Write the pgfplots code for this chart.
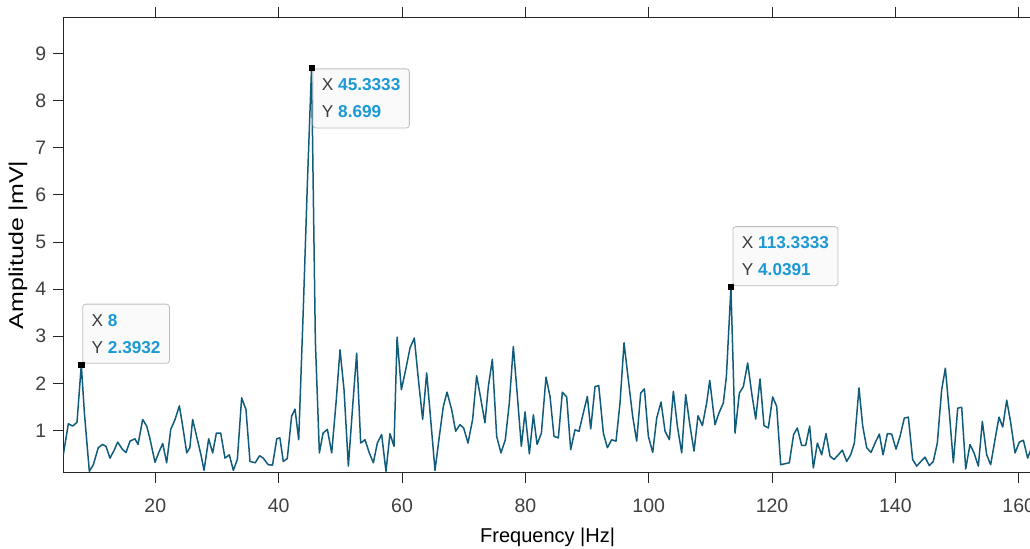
\documentclass[border=0pt]{standalone}
\usepackage{pgfplots}
\pgfplotsset{compat=1.18}
\usepackage{fontspec}
\setmainfont{Liberation Sans}
\definecolor{lineC}{RGB}{17,92,122}
\definecolor{axC}{RGB}{38,38,38}
\definecolor{tickC}{RGB}{64,64,64}
\definecolor{tipBlue}{RGB}{28,152,212}
\definecolor{tipText}{RGB}{60,60,60}
\definecolor{tipFill}{RGB}{250,250,251}
\definecolor{tipBorder}{RGB}{190,190,190}
\begin{document}
\begin{tikzpicture}
\begin{axis}[
  at={(0,0)}, anchor=south west,
  scale only axis, width=484.35pt, height=227.85pt,
  xmin=5.08, xmax=162.15, ymin=0.1, ymax=9.78,
  xtick={20,40,...,160}, ytick={1,2,...,9},
  tick align=outside, tick pos=both,
  major tick length=5pt,
  axis line style={axC, line width=0.45pt},
  every tick/.style={axC, line width=0.45pt},
  tick label style={font=\fontsize{9.75}{11}\selectfont, text=tickC},
  xticklabel style={yshift=-4.5pt},
  /pgf/number format/assume math mode=true,
  xlabel={Frequency |Hz|}, ylabel={Amplitude |mV|},
  label style={font=\fontsize{10.8}{12}\selectfont, text=tickC},
  every axis x label/.style={at={(axis description cs:0.5,-0.1411)}, anchor=center},
  every axis y label/.style={at={(axis description cs:-0.0468,0.5)}, anchor=center, rotate=90, xscale=1.25},
]
\addplot[lineC, line width=0.75pt, line join=round] coordinates {
(5.08,0.48)(5.9,1.14)(6.6,1.09)(7.3,1.17)(8.0,2.3932)(8.5,1.37)(9.3,0.13)(9.95,0.27)
(10.75,0.63)(11.46,0.70)(12.0,0.66)(12.65,0.41)(13.3,0.57)(13.9,0.75)(14.7,0.59)(15.25,0.53)
(15.9,0.77)(16.7,0.82)(17.2,0.70)(17.95,1.23)(18.6,1.09)(19.1,0.84)(19.95,0.32)(20.5,0.51)
(21.2,0.72)(21.84,0.31)(22.5,1.02)(23.2,1.23)(23.9,1.52)(24.4,1.12)(25.1,0.52)(25.6,0.63)
(26.05,1.23)(26.7,0.87)(27.4,0.48)(27.9,0.15)(28.65,0.82)(29.3,0.52)(29.9,0.94)(30.6,0.94)
(31.3,0.41)(32.0,0.48)(32.65,0.15)(33.3,0.38)(34.0,1.69)(34.7,1.44)(35.35,0.34)(36.2,0.31)
(36.9,0.46)(37.5,0.41)(38.3,0.27)(39.0,0.26)(39.7,0.82)(40.2,0.84)(40.75,0.34)(41.4,0.40)
(42.1,1.30)(42.65,1.45)(43.25,0.80)(44.0,3.6)(44.67,6.3)(45.3333,8.699)(45.95,2.9)(46.6,0.52)
(47.2,0.94)(47.9,1.02)(48.6,0.52)(49.3,1.58)(49.95,2.71)(50.6,1.86)(51.3,0.24)(52.0,1.51)
(52.65,2.64)(53.3,0.73)(54.0,0.80)(54.7,0.52)(55.35,0.31)(56.0,0.73)(56.7,0.91)(57.4,0.13)
(58.05,0.93)(58.7,0.66)(59.2,2.98)(59.9,1.86)(60.6,2.29)(61.3,2.75)(62.0,2.96)(62.6,2.15)
(63.35,1.23)(64.0,2.22)(64.65,1.23)(65.35,0.15)(66.05,0.87)(66.7,1.51)(67.3,1.81)(68.05,1.44)
(68.7,0.98)(69.4,1.12)(70.0,1.05)(70.7,0.73)(71.45,1.23)(72.1,2.16)(72.8,1.65)(73.45,1.16)
(74.0,1.93)(74.65,2.51)(75.35,0.87)(76.05,0.52)(76.75,0.80)(77.4,1.58)(78.05,2.78)(78.65,1.82)
(79.35,0.66)(79.95,1.39)(80.65,0.50)(81.3,1.33)(81.9,0.70)(82.6,0.94)(83.35,2.13)(84.0,1.72)
(84.65,0.87)(85.35,0.84)(86.0,1.81)(86.7,1.71)(87.35,0.59)(88.05,1.01)(88.7,0.98)(89.4,1.37)
(90.05,1.72)(90.6,1.03)(91.3,1.93)(91.9,1.95)(92.65,0.94)(93.3,0.63)(94.0,0.80)(94.7,0.77)
(95.35,1.58)(96.0,2.86)(96.7,2.07)(97.4,1.30)(98.05,0.77)(98.7,1.79)(99.3,1.88)(99.95,0.87)
(100.65,0.53)(101.3,1.26)(102.0,1.60)(102.65,0.98)(103.35,0.80)(104.0,1.83)(104.65,1.09)(105.35,0.52)
(106.0,1.76)(106.7,1.09)(107.35,0.56)(108.0,1.31)(108.7,1.10)(109.4,1.58)(109.9,2.06)(110.75,1.12)
(111.4,1.37)(112.1,1.58)(112.6,2.15)(113.3333,4.0391)(114.0,0.94)(114.7,1.79)(115.35,1.93)(116.05,2.43)
(116.7,1.79)(117.35,1.24)(118.05,2.09)(118.7,1.10)(119.4,1.05)(120.1,1.71)(120.75,1.51)(121.4,0.27)
(122.1,0.29)(122.8,0.31)(123.5,0.91)(124.1,1.05)(124.8,0.68)(125.45,0.68)(126.1,1.09)(126.7,0.20)
(127.35,0.73)(128.05,0.48)(128.75,0.93)(129.4,0.45)(130.05,0.38)(130.75,0.48)(131.4,0.58)(132.1,0.34)
(132.75,0.48)(133.35,0.73)(134.1,1.90)(134.7,1.09)(135.35,0.63)(136.05,0.53)(136.7,0.73)(137.4,0.92)
(138.0,0.48)(138.7,0.93)(139.4,0.92)(140.1,0.60)(140.75,0.87)(141.45,1.26)(142.1,1.28)(142.8,0.38)
(143.45,0.24)(144.15,0.34)(144.8,0.43)(145.5,0.25)(146.15,0.34)(146.8,0.73)(147.5,1.86)(148.1,2.32)
(148.75,1.37)(149.4,0.31)(150.1,1.47)(150.75,1.49)(151.4,0.18)(152.1,0.70)(152.75,0.52)(153.45,0.24)
(154.1,1.19)(154.8,0.48)(155.45,0.27)(156.15,0.80)(156.8,1.28)(157.4,1.07)(158.05,1.64)(158.7,1.16)
(159.4,0.52)(160.1,0.75)(160.75,0.79)(161.45,0.41)(162.15,0.66)
};
\addplot[only marks, mark=square*, mark size=1.3pt, black] coordinates {
(8.0,2.3932)(45.3333,8.699)(113.3333,4.0391)
};
\tikzset{tip/.style={draw=tipBorder, fill=tipFill, rounded corners=1.5pt, line width=0.4pt,
  align=left, inner xsep=4.5pt, inner ysep=5pt, text=tipText,
  font=\fontsize{8.6}{13.5}\selectfont}}
\node[tip, anchor=south west, xshift=0.5pt, yshift=0.5pt] at (axis cs:8.0,2.3932)
  {X \textbf{\textcolor{tipBlue}{8}}\\Y \textbf{\textcolor{tipBlue}{2.3932}}};
\node[tip, anchor=north west, xshift=0.5pt, yshift=-0.3pt] at (axis cs:45.3333,8.699)
  {X \textbf{\textcolor{tipBlue}{45.3333}}\\Y \textbf{\textcolor{tipBlue}{8.699}}};
\node[tip, anchor=south west, xshift=0.8pt, yshift=0.5pt] at (axis cs:113.3333,4.0391)
  {X \textbf{\textcolor{tipBlue}{113.3333}}\\Y \textbf{\textcolor{tipBlue}{4.0391}}};
\end{axis}
\pgfresetboundingbox
\useasboundingbox (-31.65pt,-38.15pt) rectangle (483.35pt,236.35pt);
\end{tikzpicture}
\end{document}
